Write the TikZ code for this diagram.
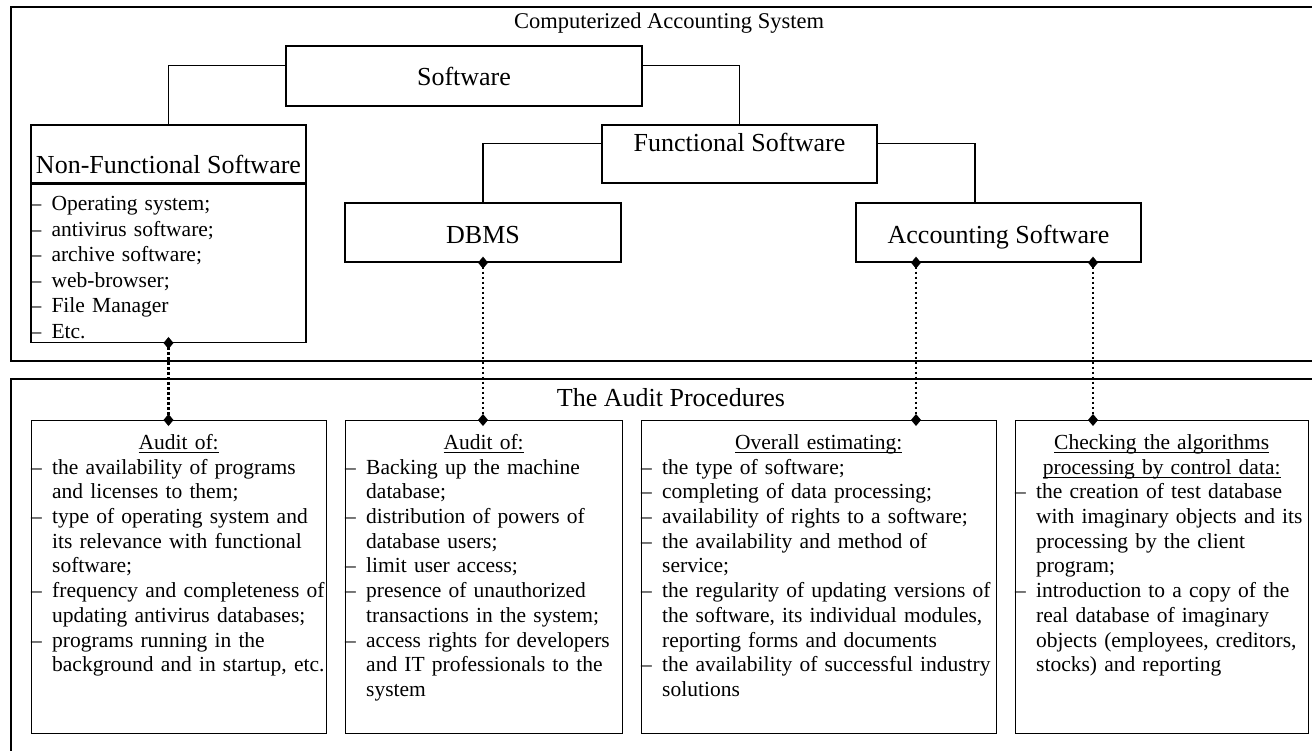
\documentclass[tikz,border=0pt]{standalone}
\usepackage{fontspec}
\setmainfont{Liberation Serif}
\usetikzlibrary{arrows.meta}

\newcommand{\ulbar}[1]{\setbox0=\hbox{#1}\rlap{\rule[-4pt]{\wd0}{1.1pt}}\box0}
\newcommand{\bhead}[1]{\par\noindent\makebox[\dimexpr\hsize-8pt\relax]{\strut\ulbar{#1}}\par}
\newcommand{\bitem}[1]{\par\noindent\hangindent=21pt\hangafter=1\makebox[21pt][l]{\strut--}#1\par}

\tikzset{
  box/.style={draw, line width=1.3pt, inner sep=0pt},
  lbl/.style={font=\fontsize{26}{30}\selectfont},
  txt/.style={inner sep=0pt, anchor=north west, font=\fontsize{21.5}{24.7}\selectfont},
  link/.style={line width=1.1pt},
  dotlink/.style={line width=2.5pt, dash pattern=on 2.5pt off 2.5pt,
    arrows={Diamond[length=12pt,width=10pt]-Diamond[length=12pt,width=10pt]},
    shorten <=-6pt, shorten >=-6pt}
}

\begin{document}
\begin{tikzpicture}[x=1pt, y=-1pt]
\clip (0,0) rectangle (1312,750);
\draw[line width=1.2pt] (11,7) rectangle (1330,361);
\draw[line width=1.2pt] (11,379) rectangle (1330,770);
\node[font=\fontsize{22.5}{27}\selectfont] (ttl) at (669,23) {Computerized Accounting System};
\node[lbl] (ap) at (671,398) {The Audit Procedures};

\node[box, lbl, minimum width=356pt, minimum height=60pt] (sw) at (464,76) {Software};
\node[box, lbl, minimum width=275pt, minimum height=58pt, text height=44pt, text depth=6pt] (nf) at (168.5,154) {Non-Functional Software};
\node[box, minimum width=275pt, minimum height=158pt, anchor=north] (nfl) at (nf.south) {};
\node[box, lbl, minimum width=275pt, minimum height=58pt, text height=18pt, text depth=23pt] (fs) at (739.5,154) {Functional Software};
\node[box, lbl, minimum width=276pt, minimum height=59pt, text height=24pt, text depth=3pt] (db) at (483,232.5) {DBMS};
\node[box, lbl, minimum width=285pt, minimum height=59pt, text height=24pt, text depth=3pt] (ac) at (998.5,232.5) {Accounting Software};

\node[txt, font=\fontsize{21.5}{25.6}\selectfont, text width=283pt] (nft) at ([yshift=-1pt]nfl.north west) {%
\bitem{Operating system;}
\bitem{antivirus software;}
\bitem{archive software;}
\bitem{web-browser;}
\bitem{File Manager}
\bitem{Etc.}};

\node[box, minimum width=295pt, minimum height=313pt, anchor=north west] (a1) at (31,420) {};
\node[box, minimum width=277pt, minimum height=313pt, anchor=north west] (a2) at (345,420) {};
\node[box, minimum width=355pt, minimum height=313pt, anchor=north west] (a3) at (641,420) {};
\node[box, minimum width=293pt, minimum height=313pt, anchor=north west] (a4) at (1015,420) {};

\node[txt, text width=303pt] (t1) at ([yshift=-4.5pt]a1.north west) {%
\bhead{Audit of:}
\bitem{the availability of programs\newline and licenses to them;}
\bitem{type of operating system and\newline its relevance with functional\newline software;}
\bitem{frequency and completeness of\newline updating antivirus databases;}
\bitem{programs running in the\newline background and in startup, etc.}};

\node[txt, text width=285pt] (t2) at ([yshift=-4.5pt]a2.north west) {%
\bhead{Audit of:}
\bitem{Backing up the machine\newline database;}
\bitem{distribution of powers of\newline database users;}
\bitem{limit user access;}
\bitem{presence of unauthorized\newline transactions in the system;}
\bitem{access rights for developers\newline and IT professionals to the\newline system}};

\node[txt, text width=363pt] (t3) at ([yshift=-4.5pt]a3.north west) {%
\bhead{Overall estimating:}
\bitem{the type of software;}
\bitem{completing of data processing;}
\bitem{availability of rights to a software;}
\bitem{the availability and method of\newline service;}
\bitem{the regularity of updating versions of\newline the software, its individual modules,\newline reporting forms and documents}
\bitem{the availability of successful industry\newline solutions}};

\node[txt, text width=301pt] (t4) at ([yshift=-4.5pt]a4.north west) {%
\bhead{Checking the algorithms}
\bhead{processing by control data:}
\bitem{the creation of test database\newline with imaginary objects and its\newline processing by the client\newline program;}
\bitem{introduction to a copy of the\newline real database of imaginary\newline objects (employees, creditors,\newline stocks) and reporting}};

\draw[link] ([yshift=-20pt]sw.north west) -| (nf.north);
\draw[link] ([yshift=-20pt]sw.north east) -| (fs.north);
\draw[link] ([yshift=-19pt]fs.north west) -| (db.north);
\draw[link] ([yshift=-19pt]fs.north east) -| ([xshift=-23.5pt]ac.north);

\coordinate (p3) at ([xshift=-82.5pt]ac.south);
\coordinate (p4) at ([xshift=94.5pt]ac.south);
\draw[dotlink] (nfl.south) -- (nfl.south |- a1.north);
\draw[dotlink] (db.south) -- (db.south |- a2.north);
\draw[dotlink] (p3) -- (p3 |- a3.north);
\draw[dotlink] (p4) -- (p4 |- a4.north);
\end{tikzpicture}
\end{document}
